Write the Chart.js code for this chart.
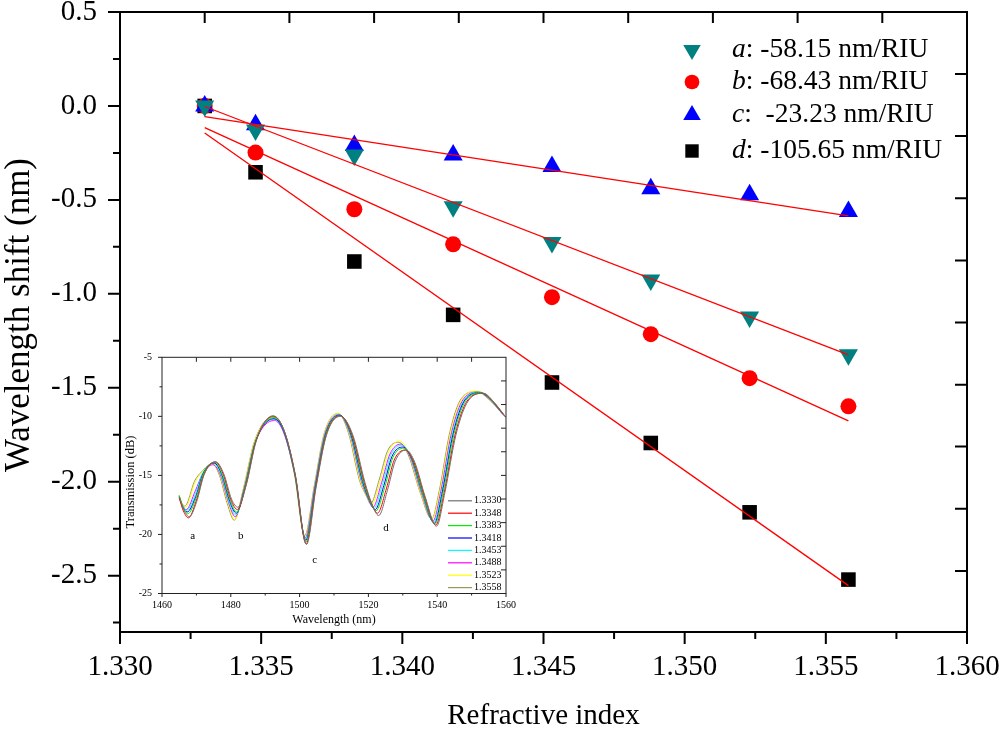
<!DOCTYPE html>
<html>
<head>
<meta charset="utf-8">
<script src="https://cdn.jsdelivr.net/npm/chart.js@4.4.0/dist/chart.umd.min.js"></script>
<style>
html, body { margin: 0; padding: 0; background: #fff; }
#wrap { position: relative; width: 1000px; height: 730px; }
#mainChart { position: absolute; left: 0; top: 0; }
#insetChart { position: absolute; left: 122px; top: 345px; }
</style>
</head>
<body>
<div id="wrap">
<canvas id="mainChart" width="1000" height="730"></canvas>
<canvas id="insetChart" width="400" height="290"></canvas>
</div>
<script>
// ---- main plot data ----
const refractiveIndex = [1.3330, 1.3348, 1.3383, 1.3418, 1.3453, 1.3488, 1.3523, 1.3558];
const shiftA = [0, -0.128, -0.261, -0.536, -0.727, -0.926, -1.124, -1.324];
const shiftB = [0, -0.248, -0.550, -0.736, -1.018, -1.215, -1.449, -1.599];
const shiftC = [0, -0.100, -0.211, -0.261, -0.323, -0.441, -0.473, -0.562];
const shiftD = [0, -0.353, -0.828, -1.112, -1.472, -1.794, -2.163, -2.521];
// linear fit values at the first and last refractive index
const fitA = [-0.003, -1.325];
const fitB = [-0.115, -1.676];
const fitC = [-0.057, -0.585];
const fitD = [-0.144, -2.553];
const seriesLetters = ['a', 'b', 'c', 'd'];
const seriesSlopes = [': -58.15 nm/RIU', ': -68.43 nm/RIU', ':  -23.23 nm/RIU', ': -105.65 nm/RIU'];

const xTicks = [1.330, 1.335, 1.340, 1.345, 1.350, 1.355, 1.360];
const xMinorTicks = [1.3325, 1.3375, 1.3425, 1.3475, 1.3525, 1.3575];
const xTopTicks = [1.333, 1.336, 1.339, 1.342, 1.345, 1.348, 1.351, 1.354, 1.357];
const yTicks = [0.5, 0.0, -0.5, -1.0, -1.5, -2.0, -2.5];
const yMinorTicks = [0.25, -0.25, -0.75, -1.25, -1.75, -2.25, -2.75];
const yRightTicks = [0.170, -0.160, -0.491, -0.823, -1.153, -1.484, -1.813, -2.144, -2.475];

// ---- inset spectra (wavelength nm / transmission dB) ----
const spectrumLabels = ['1.3330', '1.3348', '1.3383', '1.3418', '1.3453', '1.3488', '1.3523', '1.3558'];
const wl13330 = [1465.0,1466.3,1467.9,1470.0,1472.3,1475.6,1478.0,1480.2,1482.1,1484.5,1487.5,1492.3,1495.5,1498.8,1502.0,1504.8,1507.8,1511.9,1515.5,1519.0,1521.0,1523.0,1525.5,1527.8,1531.0,1533.5,1536.5,1539.8,1542.2,1545.5,1549.0,1553.5,1556.5,1560.0];
const db13330 = [-16.8,-17.9,-18.5,-17.3,-14.9,-13.85,-14.9,-17.0,-17.7,-15.8,-12.0,-9.95,-11.2,-15.0,-20.85,-16.0,-11.6,-10.0,-11.6,-15.6,-17.4,-18.4,-16.3,-13.8,-12.85,-13.9,-16.8,-19.3,-16.5,-11.5,-8.7,-8.05,-8.8,-10.1];
const wl13348 = [1465.0,1466.2,1467.7,1469.9,1472.2,1475.45,1477.8,1480.0,1481.95,1484.4,1487.4,1492.4,1495.5,1498.75,1501.9,1504.7,1507.7,1511.8,1515.3,1518.8,1520.8,1522.65,1525.2,1527.5,1530.7,1533.2,1536.3,1539.6,1542.0,1545.25,1548.7,1553.2,1556.25,1559.85];
const db13348 = [-16.9,-18.0,-18.6,-17.2,-14.9,-13.85,-14.9,-17.05,-17.9,-15.85,-12.0,-10.0,-11.2,-15.0,-20.8,-16.0,-11.6,-9.95,-11.6,-15.6,-17.3,-18.2,-16.15,-13.7,-12.85,-13.85,-16.75,-19.2,-16.5,-11.5,-8.7,-8.05,-8.75,-10.05];
const wl13383 = [1465.0,1466.1,1467.5,1469.8,1472.05,1475.3,1477.55,1479.8,1481.75,1484.2,1487.3,1492.5,1495.5,1498.7,1501.8,1504.65,1507.6,1511.65,1515.1,1518.5,1520.5,1522.2,1524.75,1527.1,1530.3,1532.85,1536.0,1539.35,1541.7,1544.9,1548.35,1552.85,1555.95,1559.7];
const db13383 = [-16.7,-17.7,-18.25,-17.0,-14.85,-13.9,-14.95,-17.1,-18.1,-15.9,-12.05,-10.1,-11.25,-15.0,-20.65,-15.95,-11.55,-9.95,-11.55,-15.55,-17.2,-18.0,-16.0,-13.5,-12.7,-13.7,-16.7,-19.1,-16.45,-11.45,-8.65,-8.0,-8.7,-10.0];
const wl13418 = [1465.0,1466.0,1467.3,1469.8,1471.95,1475.15,1477.4,1479.7,1481.6,1484.1,1487.25,1492.5,1495.45,1498.7,1501.8,1504.6,1507.55,1511.6,1514.9,1518.3,1520.35,1521.95,1524.5,1526.85,1530.05,1532.6,1535.85,1539.2,1541.5,1544.7,1548.1,1552.6,1555.75,1559.55];
const db13418 = [-16.8,-17.65,-18.1,-16.8,-14.85,-13.95,-14.95,-17.2,-18.2,-16.0,-12.1,-10.2,-11.3,-15.0,-20.5,-15.9,-11.5,-9.9,-11.5,-15.5,-17.15,-17.9,-15.85,-13.4,-12.6,-13.6,-16.6,-19.05,-16.4,-11.4,-8.6,-8.0,-8.65,-9.95];
const wl13453 = [1465.0,1465.95,1467.15,1469.7,1471.85,1475.0,1477.25,1479.5,1481.45,1484.0,1487.15,1492.6,1495.45,1498.65,1501.75,1504.5,1507.45,1511.5,1514.75,1518.1,1520.15,1521.6,1524.15,1526.5,1529.7,1532.35,1535.65,1539.0,1541.3,1544.45,1547.85,1552.35,1555.5,1559.4];
const db13453 = [-16.8,-17.55,-17.95,-16.6,-14.8,-14.0,-15.0,-17.25,-18.35,-16.05,-12.1,-10.25,-11.35,-15.0,-20.4,-15.9,-11.5,-9.85,-11.5,-15.5,-17.05,-17.8,-15.7,-13.3,-12.45,-13.5,-16.55,-18.95,-16.4,-11.4,-8.6,-7.95,-8.6,-9.9];
const wl13488 = [1465.0,1465.9,1467.0,1469.7,1471.75,1474.8,1477.1,1479.35,1481.3,1483.85,1487.1,1492.7,1495.4,1498.6,1501.65,1504.45,1507.4,1511.4,1514.6,1517.9,1519.95,1521.3,1523.85,1526.25,1529.45,1532.1,1535.45,1538.8,1541.05,1544.2,1547.6,1552.1,1555.3,1559.3];
const db13488 = [-16.9,-17.5,-17.9,-16.3,-14.9,-14.1,-15.05,-17.3,-18.5,-16.1,-12.2,-10.35,-11.4,-14.95,-20.3,-15.85,-11.45,-9.85,-11.45,-15.45,-17.0,-17.7,-15.6,-13.2,-12.35,-13.4,-16.5,-18.85,-16.35,-11.35,-8.55,-7.95,-8.55,-9.9];
const wl13523 = [1465.0,1465.8,1466.8,1469.6,1471.6,1474.7,1476.9,1479.2,1481.15,1483.7,1487.0,1492.3,1495.35,1498.55,1501.6,1504.4,1507.3,1511.3,1514.4,1517.6,1519.7,1520.9,1523.5,1525.9,1529.1,1531.8,1535.2,1538.6,1540.8,1543.95,1547.3,1551.8,1555.05,1559.1];
const db13523 = [-16.7,-17.4,-17.7,-15.6,-14.75,-14.05,-15.0,-17.35,-18.75,-16.15,-12.1,-10.15,-11.25,-14.95,-20.2,-15.8,-11.4,-9.75,-11.4,-15.4,-16.9,-17.5,-15.4,-13.0,-12.1,-13.2,-16.45,-18.65,-16.3,-11.3,-8.5,-7.85,-8.5,-9.7];
const wl13558 = [1465.0,1465.7,1466.6,1469.6,1471.5,1474.6,1476.7,1479.0,1481.0,1483.6,1486.9,1492.1,1495.3,1498.5,1501.5,1504.3,1507.2,1511.2,1514.2,1517.4,1519.5,1520.6,1523.2,1525.6,1528.8,1531.5,1535.0,1538.4,1540.6,1543.7,1547.0,1551.5,1554.8,1559.0];
const db13558 = [-16.7,-17.3,-17.6,-15.4,-14.7,-14.0,-15.0,-17.4,-18.8,-16.2,-12.1,-10.05,-11.2,-14.9,-20.1,-15.8,-11.4,-9.75,-11.4,-15.4,-16.8,-17.4,-15.3,-12.9,-12.2,-13.2,-16.4,-18.7,-16.3,-11.3,-8.5,-7.9,-8.5,-9.8];
const spectrumColors = ['#707070', '#ff0000', '#00ee00', '#0000ff', '#00ffff', '#ff00ff', '#ffff00', '#9a9a55'];

const insetXTicks = [1460, 1480, 1500, 1520, 1540, 1560];
const insetXMinor = [1470, 1490, 1510, 1530, 1550];
const insetXTop = [1470, 1480, 1490, 1500, 1510, 1520, 1530, 1540, 1550];
const insetYTicks = [-5, -10, -15, -20, -25];
const insetYMinor = [-7.5, -12.5, -17.5, -22.5];
const insetYRight = [-7, -9, -11, -13, -15, -17, -19, -21, -23];
const dipNames = ['a', 'b', 'c', 'd'];
const dipTextWl = [1468.9, 1482.9, 1504.4, 1525.1];
const dipTextDb = [-20.1, -20.1, -22.2, -19.5];

const serif = '"Liberation Serif", "Times New Roman", serif';
Chart.defaults.font.family = serif;
Chart.defaults.color = '#000';

function toPoints(xs, ys) {
    return xs.map((x, i) => ({x: x, y: ys[i]}));
}

function fitLine(values) {
    return [{x: refractiveIndex[0], y: values[0]}, {x: refractiveIndex[refractiveIndex.length - 1], y: values[1]}];
}

function tickMarks(ctx, scale, values, side, len, area) {
    ctx.beginPath();
    values.forEach(v => {
        const p = scale.getPixelForValue(v);
        if (side === 'bottom') { ctx.moveTo(p, area.bottom); ctx.lineTo(p, area.bottom + len); }
        if (side === 'top') { ctx.moveTo(p, area.top); ctx.lineTo(p, area.top + len); }
        if (side === 'left') { ctx.moveTo(area.left - len, p); ctx.lineTo(area.left, p); }
        if (side === 'right') { ctx.moveTo(area.right - len, p); ctx.lineTo(area.right, p); }
    });
    ctx.stroke();
}

function marker(ctx, style, x, y, r, color, rotation) {
    ctx.save();
    ctx.fillStyle = color;
    ctx.translate(x, y);
    ctx.rotate((rotation || 0) * Math.PI / 180);
    ctx.beginPath();
    if (style === 'circle') {
        ctx.arc(0, 0, r, 0, Math.PI * 2);
    } else if (style === 'rect') {
        const s = r * Math.SQRT1_2;
        ctx.rect(-s, -s, 2 * s, 2 * s);
    } else {
        ctx.moveTo(0, -r);
        ctx.lineTo(r * 0.866, r / 2);
        ctx.lineTo(-r * 0.866, r / 2);
        ctx.closePath();
    }
    ctx.fill();
    ctx.restore();
}

const markerStyles = [
    {style: 'triangle', color: '#008080', r: 11, rot: 180},
    {style: 'circle', color: '#ff0000', r: 8, rot: 0},
    {style: 'triangle', color: '#0000ff', r: 11, rot: 0},
    {style: 'rect', color: '#000000', r: 10.3, rot: 0}
];

const mainDecor = {
    id: 'mainDecor',
    afterDraw(chart) {
        const ctx = chart.ctx;
        const area = chart.chartArea;
        const xs = chart.scales.x;
        const ys = chart.scales.y;
        ctx.save();
        ctx.strokeStyle = '#000';
        ctx.lineWidth = 2;
        ctx.strokeRect(area.left, area.top, area.right - area.left, area.bottom - area.top);
        tickMarks(ctx, xs, xTicks, 'bottom', 12, area);
        tickMarks(ctx, xs, xMinorTicks, 'bottom', 7, area);
        tickMarks(ctx, ys, yTicks, 'left', 12, area);
        tickMarks(ctx, ys, yMinorTicks, 'left', 7, area);
        tickMarks(ctx, xs, xTopTicks, 'top', 11, area);
        tickMarks(ctx, ys, yRightTicks, 'right', 12, area);

        // axis titles
        ctx.fillStyle = '#000';
        ctx.font = '29px ' + serif;
        ctx.textAlign = 'center';
        ctx.textBaseline = 'middle';
        ctx.fillText('Refractive index', (area.left + area.right) / 2, 716);
        ctx.save();
        ctx.translate(20, 315);
        ctx.rotate(-Math.PI / 2);
        ctx.font = '35px ' + serif;
        ctx.fillText('Wavelength shift (nm)', 0, 0);
        ctx.restore();

        // legend
        const mx = area.right - 275;
        const rows = [38, 70, 103, 139];
        ctx.textAlign = 'left';
        seriesLetters.forEach((letter, i) => {
            const m = markerStyles[i];
            const y = area.top + rows[i];
            marker(ctx, m.style, mx, y, m.r * 0.92, m.color, m.rot);
            ctx.fillStyle = '#000';
            ctx.font = 'italic 27.5px ' + serif;
            const tx = mx + 40;
            ctx.fillText(letter, tx, y);
            const w = ctx.measureText(letter).width;
            ctx.font = '27.5px ' + serif;
            ctx.fillText(seriesSlopes[i], tx + w, y);
        });
        ctx.restore();
    }
};

new Chart(document.getElementById('mainChart'), {
    type: 'scatter',
    data: {
        datasets: [
            {data: fitLine(fitA), showLine: true, borderColor: '#ff0000', borderWidth: 1.3, pointRadius: 0},
            {data: fitLine(fitB), showLine: true, borderColor: '#ff0000', borderWidth: 1.3, pointRadius: 0},
            {data: fitLine(fitC), showLine: true, borderColor: '#ff0000', borderWidth: 1.3, pointRadius: 0},
            {data: fitLine(fitD), showLine: true, borderColor: '#ff0000', borderWidth: 1.3, pointRadius: 0},
            {data: toPoints(refractiveIndex, shiftA), pointStyle: 'triangle', rotation: 180, radius: 11,
                backgroundColor: '#008080', borderColor: '#008080', borderWidth: 0},
            {data: toPoints(refractiveIndex, shiftC), pointStyle: 'triangle', radius: 11,
                backgroundColor: '#0000ff', borderColor: '#0000ff', borderWidth: 0},
            {data: toPoints(refractiveIndex, shiftB), pointStyle: 'circle', radius: 8,
                backgroundColor: '#ff0000', borderColor: '#ff0000', borderWidth: 0},
            {data: toPoints(refractiveIndex, shiftD), pointStyle: 'rect', radius: 10.3,
                backgroundColor: '#000000', borderColor: '#000000', borderWidth: 0}
        ]
    },
    options: {
        responsive: false,
        animation: false,
        layout: {padding: {top: 12, right: 33, left: 0, bottom: 0}},
        plugins: {legend: {display: false}, tooltip: {enabled: false}},
        elements: {point: {hoverRadius: 0}},
        scales: {
            x: {
                type: 'linear', min: 1.330, max: 1.360,
                grid: {display: false, drawTicks: false}, border: {display: false},
                afterBuildTicks: s => { s.ticks = xTicks.map(v => ({value: v})); },
                afterFit: s => { s.height = 98; s.paddingLeft = 0; s.paddingRight = 0; },
                ticks: {padding: 18, font: {size: 29}, callback: v => Number(v).toFixed(3), maxRotation: 0, autoSkip: false}
            },
            y: {
                type: 'linear', min: -2.8, max: 0.5,
                grid: {display: false, drawTicks: false}, border: {display: false},
                afterBuildTicks: s => { s.ticks = yTicks.map(v => ({value: v})); },
                afterFit: s => { s.width = 120; s.paddingTop = 0; s.paddingBottom = 0; },
                ticks: {padding: 23, font: {size: 29}, callback: v => Number(v).toFixed(1), autoSkip: false}
            }
        }
    },
    plugins: [mainDecor]
});

// ---- inset ----
const insetDecor = {
    id: 'insetDecor',
    afterDraw(chart) {
        const ctx = chart.ctx;
        const area = chart.chartArea;
        const xs = chart.scales.x;
        const ys = chart.scales.y;
        ctx.save();
        ctx.strokeStyle = '#222';
        ctx.lineWidth = 1;
        ctx.strokeRect(area.left, area.top, area.right - area.left, area.bottom - area.top);
        tickMarks(ctx, xs, insetXTicks, 'bottom', 3.5, area);
        tickMarks(ctx, xs, insetXMinor, 'bottom', 2, area);
        tickMarks(ctx, ys, insetYTicks, 'left', 4, area);
        tickMarks(ctx, ys, insetYMinor, 'left', 2.5, area);
        tickMarks(ctx, xs, insetXTop, 'top', 4.5, area);
        tickMarks(ctx, ys, insetYRight, 'right', 5, area);

        ctx.fillStyle = '#000';
        ctx.textAlign = 'center';
        ctx.textBaseline = 'middle';
        ctx.font = '12px ' + serif;
        ctx.fillText('Wavelength (nm)', (area.left + area.right) / 2, 275);
        ctx.save();
        ctx.translate(9, 137);
        ctx.rotate(-Math.PI / 2);
        ctx.font = '12.5px ' + serif;
        ctx.fillText('Transmission (dB)', 0, 0);
        ctx.restore();

        ctx.font = '11px ' + serif;
        dipNames.forEach((n, i) => {
            ctx.fillText(n, xs.getPixelForValue(dipTextWl[i]), ys.getPixelForValue(dipTextDb[i]));
        });

        // legend
        const lx = area.left + 286;
        const top = area.top + 143.5;
        ctx.font = '10px ' + serif;
        ctx.textAlign = 'left';
        spectrumLabels.forEach((lab, i) => {
            const y = top + i * 12.4;
            ctx.strokeStyle = spectrumColors[i];
            ctx.lineWidth = 1.2;
            ctx.beginPath();
            ctx.moveTo(lx, y);
            ctx.lineTo(lx + 24, y);
            ctx.stroke();
            ctx.fillStyle = '#000';
            ctx.fillText(lab, lx + 26, y);
        });
        ctx.restore();
    }
};

const spectra = [
    [wl13330, db13330], [wl13348, db13348], [wl13383, db13383], [wl13418, db13418],
    [wl13453, db13453], [wl13488, db13488], [wl13523, db13523], [wl13558, db13558]
];

new Chart(document.getElementById('insetChart'), {
    type: 'line',
    data: {
        datasets: spectra.map((s, i) => ({
            label: spectrumLabels[i],
            data: toPoints(s[0], s[1]),
            borderColor: spectrumColors[i],
            borderWidth: 1,
            pointRadius: 0,
            cubicInterpolationMode: 'monotone',
            fill: false
        }))
    },
    options: {
        responsive: false,
        animation: false,
        layout: {padding: {top: 12.3, right: 16, left: 0, bottom: 0}},
        plugins: {legend: {display: false}, tooltip: {enabled: false}},
        scales: {
            x: {
                type: 'linear', min: 1460, max: 1560,
                grid: {display: false, drawTicks: false}, border: {display: false},
                afterBuildTicks: s => { s.ticks = insetXTicks.map(v => ({value: v})); },
                afterFit: s => { s.height = 41.5; s.paddingLeft = 0; s.paddingRight = 0; },
                ticks: {padding: 5.5, font: {size: 10, lineHeight: 1.2}, callback: v => String(v), maxRotation: 0, autoSkip: false}
            },
            y: {
                type: 'linear', min: -25, max: -5,
                grid: {display: false, drawTicks: false}, border: {display: false},
                afterBuildTicks: s => { s.ticks = insetYTicks.map(v => ({value: v})); },
                afterFit: s => { s.width = 40; s.paddingTop = 0; s.paddingBottom = 0; },
                ticks: {padding: 10, font: {size: 10}, callback: v => String(v), autoSkip: false}
            }
        }
    },
    plugins: [insetDecor]
});
</script>
</body>
</html>
